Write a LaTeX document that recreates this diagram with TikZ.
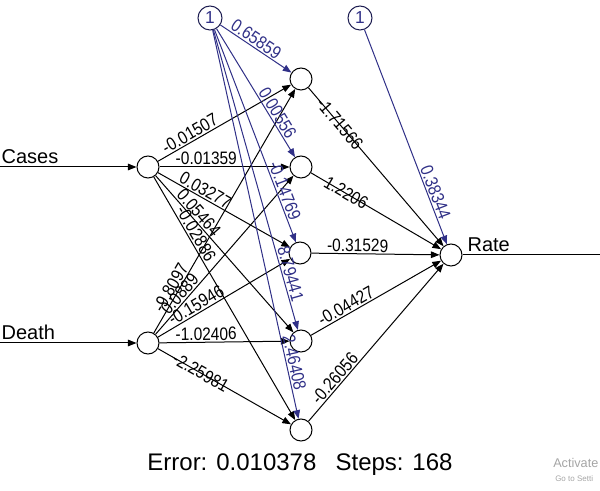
\documentclass[tikz,border=0pt]{standalone}
\usepackage{fontspec}
\setmainfont{Liberation Sans}
\newfontfamily\narrowsans[FakeStretch=0.86]{Liberation Sans}
\usetikzlibrary{arrows.meta}
\definecolor{biasblue}{RGB}{48,48,135}
\definecolor{wmgray}{RGB}{165,165,165}

\begin{document}
\begin{tikzpicture}[x=0.75pt, y=-0.75pt,
  neuron/.style={circle, draw, line width=0.75pt, minimum size=16.5pt, inner sep=0pt},
  biasnode/.style={neuron, draw=biasblue!60!black, text=biasblue, minimum size=18pt, font=\fontsize{13}{13}\selectfont},
  wire/.style={line width=0.75pt, -{Triangle[length=6.5pt,width=5pt]}},
  biaswire/.style={wire, draw=biasblue},
  weight/.style={sloped, above, inner sep=1pt, font=\narrowsans\fontsize{13.5}{13.5}\selectfont},
  biasweight/.style={weight, text=biasblue},
  online/.style={below=-6.5pt},
  varname/.style={inner sep=1pt, font=\fontsize{15}{15}\selectfont}]

\useasboundingbox (0,0) rectangle (600,491);

% bias nodes
\node[biasnode] (b1) at (210,18) {1};
\node[biasnode] (b2) at (360,18) {1};

% input layer
\node[neuron] (cases) at (148,167) {};
\node[neuron] (death) at (148,343) {};

% hidden layer
\node[neuron] (h1) at (301,79) {};
\node[neuron] (h2) at (301,167) {};
\node[neuron] (h3) at (300,253) {};
\node[neuron] (h4) at (301,341) {};
\node[neuron] (h5) at (301,430) {};

% output layer
\node[neuron] (rate) at (451,255) {};

% inputs and output
\coordinate (casesin) at (0,167);
\coordinate (deathin) at (0,343);
\coordinate (rateout) at (600,255);
\node[varname, anchor=south west] (caseslab) at (0,165) {Cases};
\node[varname, anchor=south west] (deathlab) at (0,341) {Death};
\node[varname, anchor=south west] (ratelab) at (466,253) {Rate};
\draw[wire] (casesin) -- (cases);
\draw[wire] (deathin) -- (death);
\draw[line width=0.75pt] (rate) -- (rateout);

% Cases -> hidden
\draw[wire] (cases) -- node[weight, pos=0.27] {-0.01507} (h1);
\draw[wire] (cases) -- node[weight, pos=0.36] {-0.01359} (h2);
\draw[wire] (cases) -- node[weight, pos=0.33] {0.03277} (h3);
\draw[wire] (cases) -- node[weight, pos=0.27] {0.05464} (h4);
\draw[wire] (cases) -- node[weight, pos=0.25] {-0.02886} (h5);

% Death -> hidden
\draw[wire] (death) -- node[weight, pos=0.17] {-9.8097} (h1);
\draw[wire] (death) -- node[weight, pos=0.22] {0.0889} (h2);
\draw[wire] (death) -- node[weight, pos=0.32] {-0.15946} (h3);
\draw[wire] (death) -- node[weight, pos=0.36] {-1.02406} (h4);
\draw[wire] (death) -- node[weight, pos=0.32, online] {-2.25981} (h5);

% bias -> hidden
\draw[biaswire] (b1) -- node[biasweight, pos=0.44] {0.65859} (h1);
\draw[biaswire] (b1) -- node[biasweight, pos=0.69] {0.00556} (h2);
\draw[biaswire] (b1) -- node[biasweight, pos=0.77] {-0.14769} (h3);
\draw[biaswire] (b1) -- node[biasweight, pos=0.82] {8.79441} (h4);
\draw[biaswire] (b1) -- node[biasweight, pos=0.86] {2.46408} (h5);

% hidden -> Rate
\draw[wire] (h1) -- node[weight, pos=0.23, online] {-1.71566} (rate);
\draw[wire] (h2) -- node[weight, pos=0.27, online] {1.2206} (rate);
\draw[wire] (h3) -- node[weight, pos=0.36] {-0.31529} (rate);
\draw[wire] (h4) -- node[weight, pos=0.30] {-0.04427} (rate);
\draw[wire] (h5) -- node[weight, pos=0.24] {-0.26056} (rate);
\draw[biaswire] (b2) -- node[biasweight, pos=0.77] {0.38344} (rate);

% error and steps
\node[anchor=base, font=\fontsize{18}{18}\selectfont] (result) at (300,470) {Error: 0.010378\hspace{0.8em}Steps: 168};

% watermark
\node[anchor=base west, inner sep=0pt, text=wmgray, font=\fontsize{9.5}{9.5}\selectfont] (wm1) at (553,468) {Activate};
\node[anchor=base west, inner sep=0pt, text=wmgray, font=\fontsize{6}{6}\selectfont] (wm2) at (555,482) {Go to Setti};

\end{tikzpicture}
\end{document}
